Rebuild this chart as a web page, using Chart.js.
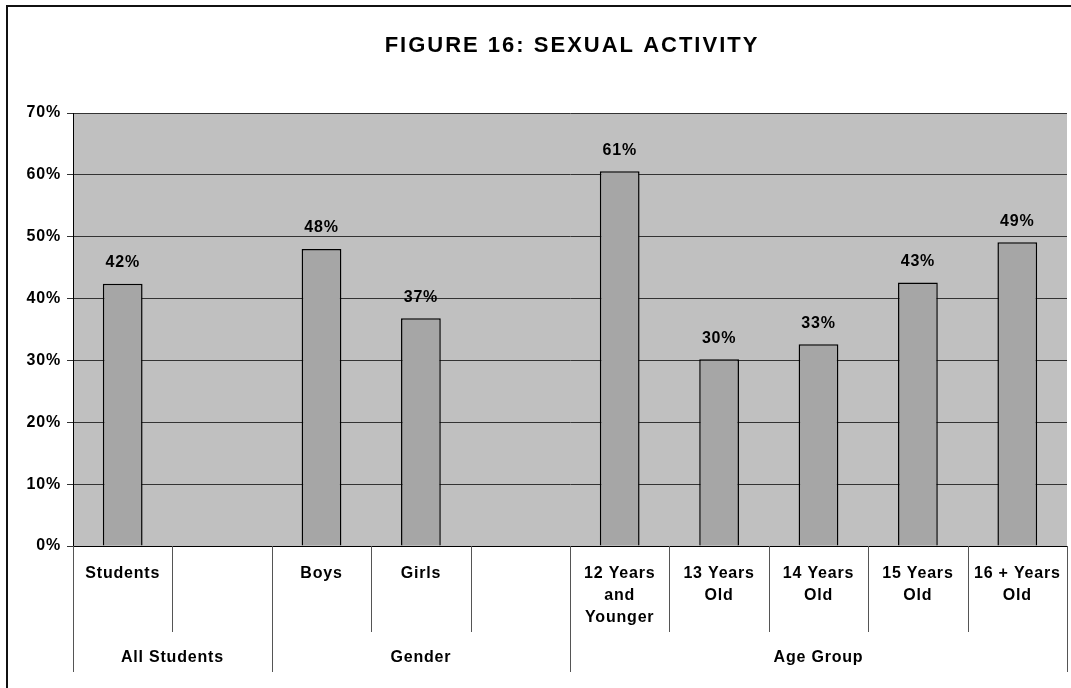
<html>
<head>
<meta charset="utf-8">
<script src="https://cdn.jsdelivr.net/npm/chart.js@4.4.1/dist/chart.umd.min.js"></script>
<style>
body { margin:0; background:#fff; }
#wrap { width:1071px; height:688px; }
</style>
</head>
<body>
<div id="wrap"><canvas id="chart"></canvas></div>
<script>
// chart data
var categories = ["Students", "", "Boys", "Girls", "", ["12 Years", "and", "Younger"], ["13 Years", "Old"], ["14 Years", "Old"], ["15 Years", "Old"], ["16 + Years", "Old"]];
var values = [42.4, null, 48, 36.8, null, 60.6, 30.2, 32.6, 42.6, 49.1];
var groups = ["All Students", "Gender", "Age Group"];
var groupSpans = [2, 3, 5];   // number of category slots in each group
var yTicks = [0, 10, 20, 30, 40, 50, 60, 70];
var title = "FIGURE 16: SEXUAL ACTIVITY";

var FONT = "'Liberation Sans', Arial, sans-serif";
var SPACING = '0.8px';

var extras = {
  id: 'extras',
  beforeUpdate: function(chart) { chart.ctx.letterSpacing = SPACING; },
  beforeDraw: function(chart) {
    var ctx = chart.ctx, a = chart.chartArea;
    ctx.save();
    ctx.fillStyle = '#fff';
    ctx.fillRect(0, 0, chart.width, chart.height);
    // frame (cropped on right and bottom)
    ctx.strokeStyle = '#111';
    ctx.lineWidth = 2;
    ctx.strokeRect(7, 6, chart.width + 20, chart.height + 20);
    // plot background
    ctx.fillStyle = '#c0c0c0';
    ctx.fillRect(a.left, a.top, a.right - a.left, a.bottom - a.top);
    // title
    ctx.fillStyle = '#000';
    ctx.font = 'bold 22px ' + FONT;
    ctx.letterSpacing = '2px';
    ctx.textAlign = 'center';
    ctx.textBaseline = 'middle';
    ctx.fillText(title, 572, 46);
    ctx.restore();
    chart.ctx.letterSpacing = SPACING;
  },
  afterDraw: function(chart) {
    var ctx = chart.ctx, a = chart.chartArea;
    var n = categories.length;
    var slot = (a.right - a.left) / n;
    ctx.save();
    ctx.strokeStyle = '#555';
    ctx.lineWidth = 1;
    // group boundary indices
    var bounds = [0], acc = 0;
    for (var g = 0; g < groupSpans.length; g++) { acc += groupSpans[g]; bounds.push(acc); }
    for (var i = 0; i <= n; i++) {
      var px = Math.round(a.left + i * slot) + 0.5;
      var len = bounds.indexOf(i) >= 0 ? 126 : 86;
      ctx.beginPath();
      ctx.moveTo(px, a.bottom);
      ctx.lineTo(px, a.bottom + len);
      ctx.stroke();
    }
    // group labels
    ctx.fillStyle = '#000';
    ctx.font = 'bold 16px ' + FONT;
    ctx.letterSpacing = SPACING;
    ctx.textAlign = 'center';
    ctx.textBaseline = 'middle';
    for (var g = 0; g < groups.length; g++) {
      var cx = a.left + (bounds[g] + bounds[g + 1]) / 2 * slot;
      ctx.fillText(groups[g], cx, a.bottom + 112);
    }
    // value labels
    var meta = chart.getDatasetMeta(0);
    meta.data.forEach(function(bar, i) {
      if (values[i] == null) return;
      ctx.fillText(Math.round(values[i]) + '%', bar.x, bar.y - 21);
    });
    ctx.restore();
  }
};

new Chart(document.getElementById('chart'), {
  type: 'bar',
  data: {
    labels: categories,
    datasets: [{
      data: values,
      backgroundColor: '#a6a6a6',
      borderColor: '#000',
      borderWidth: 1.5,
      barPercentage: 0.4,
      categoryPercentage: 1
    }]
  },
  options: {
    responsive: true,
    maintainAspectRatio: false,
    animation: false,
    layout: { padding: { top: 113, right: 4, left: 0, bottom: 0 } },
    plugins: { legend: { display: false }, tooltip: { enabled: false }, title: { display: false } },
    scales: {
      x: {
        grid: { display: false, drawTicks: false },
        border: { display: true, color: '#000', width: 1 },
        ticks: {
          color: '#000', padding: 16, maxRotation: 0, autoSkip: false,
          font: { family: FONT, size: 16, weight: 'bold', lineHeight: 1.4 }
        },
        afterFit: function(s) { s.height = 142; s.paddingLeft = 0; s.paddingRight = 0; }
      },
      y: {
        min: 0, max: 70,
        afterBuildTicks: function(s) { s.ticks = yTicks.map(function(v) { return { value: v }; }); },
        grid: { color: '#333', lineWidth: 1, tickLength: 6 },
        border: { display: true, color: '#000', width: 1 },
        ticks: {
          color: '#000', padding: 6,
          font: { family: FONT, size: 16, weight: 'bold' },
          callback: function(v) { return v + '%'; }
        },
        afterFit: function(s) { s.width = 73; }
      }
    }
  },
  plugins: [extras]
});
</script>
</body>
</html>
